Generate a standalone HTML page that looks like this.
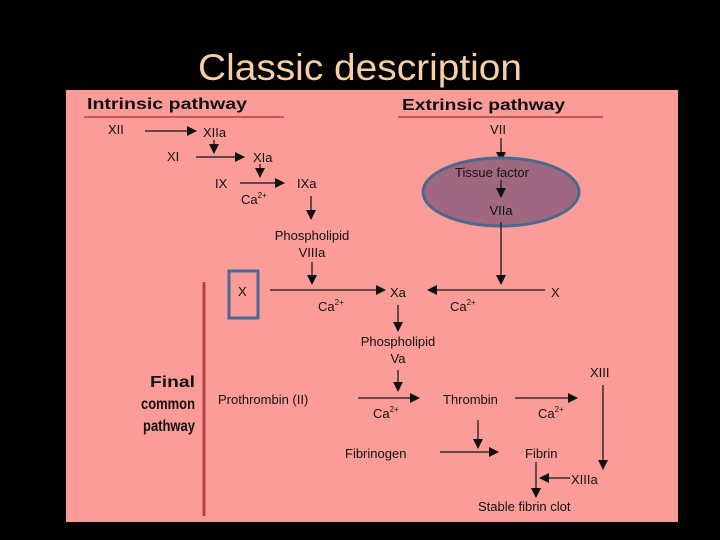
<!DOCTYPE html>
<html><head><meta charset="utf-8"><style>
html,body{margin:0;padding:0;background:#000;width:720px;height:540px;overflow:hidden}
svg{display:block}
text{font-family:"Liberation Sans",sans-serif;fill:#111}
</style></head><body>
<svg width="720" height="540" viewBox="0 0 720 540">
<defs><marker id="a" markerWidth="12" markerHeight="12" refX="9" refY="5" orient="auto" markerUnits="userSpaceOnUse"><path d="M0,0 L10,5 L0,10 z" fill="#111"/></marker></defs>
<rect x="0" y="0" width="720" height="540" fill="#000"/>
<text x="360" y="80" text-anchor="middle" font-size="37" textLength="324" lengthAdjust="spacingAndGlyphs" style="fill:#f7cfa6">Classic description</text>
<rect x="66" y="90" width="612" height="432" fill="#fb9c98"/>
<g font-size="13">
<text x="87" y="109" font-weight="bold" font-size="16" textLength="160" lengthAdjust="spacingAndGlyphs">Intrinsic pathway</text>
<line x1="84" y1="117" x2="284" y2="117" stroke="#b84040" stroke-width="1.5"/>
<text x="402" y="110" font-weight="bold" font-size="16" textLength="163" lengthAdjust="spacingAndGlyphs">Extrinsic pathway</text>
<line x1="398" y1="117" x2="603" y2="117" stroke="#b84040" stroke-width="1.5"/>
<g stroke="#111" stroke-width="1.2" fill="none" marker-end="url(#a)">
<line x1="145" y1="131" x2="196" y2="131"/>
<line x1="214" y1="140" x2="214" y2="153"/>
<line x1="196" y1="157" x2="244" y2="157"/>
<line x1="260" y1="164" x2="260" y2="177"/>
<line x1="240" y1="183" x2="284" y2="183"/>
<line x1="311" y1="196" x2="311" y2="219"/>
<line x1="312" y1="262" x2="312" y2="284"/>
<line x1="270" y1="290" x2="385" y2="290"/>
<line x1="501" y1="138" x2="501" y2="161"/>
</g>
<ellipse cx="501" cy="192" rx="78" ry="34" fill="#a06880" stroke="#4b6890" stroke-width="3"/>
<g stroke="#111" stroke-width="1.2" fill="none" marker-end="url(#a)">
<line x1="501" y1="180" x2="501" y2="197"/>
<line x1="501" y1="222" x2="501" y2="284"/>
<line x1="545" y1="290" x2="428" y2="290"/>
<line x1="398" y1="305" x2="398" y2="331"/>
<line x1="398" y1="370" x2="398" y2="391"/>
<line x1="358" y1="398" x2="419" y2="398"/>
<line x1="515" y1="398" x2="577" y2="398"/>
<line x1="603" y1="385" x2="603" y2="469"/>
<line x1="478" y1="420" x2="478" y2="448"/>
<line x1="440" y1="452" x2="498" y2="452"/>
<line x1="536" y1="462" x2="536" y2="497"/>
<line x1="570" y1="478" x2="540" y2="478"/>
</g>
<text x="108" y="134">XII</text>
<text x="203" y="137">XIIa</text>
<text x="167" y="161">XI</text>
<text x="253" y="162">XIa</text>
<text x="215" y="188">IX</text>
<text x="297" y="188">IXa</text>
<text x="241" y="204">Ca<tspan font-size="8" dy="-6">2+</tspan></text>
<text x="312" y="240" text-anchor="middle">Phospholipid</text>
<text x="312" y="257" text-anchor="middle">VIIIa</text>
<rect x="229" y="271" width="29" height="47" fill="none" stroke="#4b6890" stroke-width="3"/>
<text x="238" y="296">X</text>
<text x="390" y="297">Xa</text>
<text x="318" y="311">Ca<tspan font-size="8" dy="-6">2+</tspan></text>
<text x="498" y="134" text-anchor="middle">VII</text>
<text x="492" y="177" text-anchor="middle">Tissue factor</text>
<text x="501" y="215" text-anchor="middle">VIIa</text>
<text x="551" y="297">X</text>
<text x="450" y="311">Ca<tspan font-size="8" dy="-6">2+</tspan></text>
<line x1="204" y1="282" x2="204" y2="516" stroke="#b84040" stroke-width="3"/>
<g font-weight="bold" font-size="16">
<text x="150" y="387" textLength="45" lengthAdjust="spacingAndGlyphs">Final</text>
<text x="141" y="409" textLength="54" lengthAdjust="spacingAndGlyphs">common</text>
<text x="143" y="431" textLength="52" lengthAdjust="spacingAndGlyphs">pathway</text>
</g>
<text x="398" y="346" text-anchor="middle">Phospholipid</text>
<text x="398" y="363" text-anchor="middle">Va</text>
<text x="218" y="404">Prothrombin (II)</text>
<text x="443" y="404">Thrombin</text>
<text x="373" y="418">Ca<tspan font-size="8" dy="-6">2+</tspan></text>
<text x="538" y="418">Ca<tspan font-size="8" dy="-6">2+</tspan></text>
<text x="590" y="377">XIII</text>
<text x="345" y="458">Fibrinogen</text>
<text x="525" y="458">Fibrin</text>
<text x="571" y="484">XIIIa</text>
<text x="478" y="511">Stable fibrin clot</text>
</g>
</svg>
</body></html>
